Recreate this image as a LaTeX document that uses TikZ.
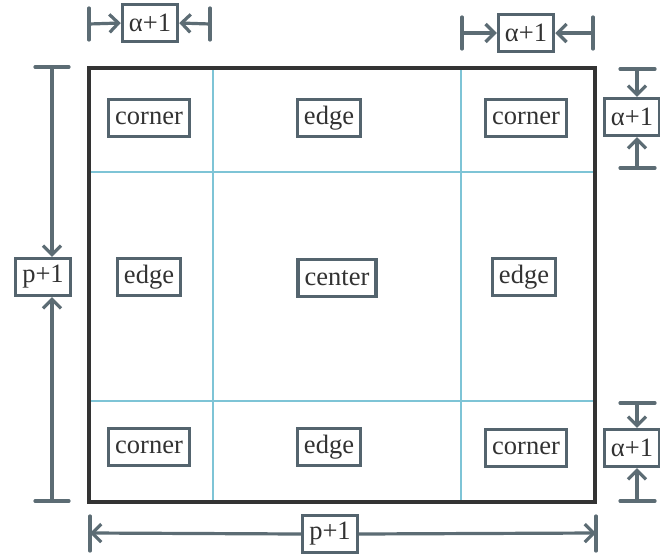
\documentclass[tikz,border=0pt]{standalone}
\usepackage{fontspec}
\setmainfont{Liberation Serif}
\usetikzlibrary{arrows.meta}
\definecolor{boxc}{RGB}{84,100,110}
\definecolor{arrc}{RGB}{92,108,116}
\definecolor{gridc}{RGB}{126,196,214}
\definecolor{framec}{RGB}{51,51,51}
\definecolor{textc}{RGB}{50,50,50}
\tikzset{
  lbl/.style={draw=boxc, line width=3.4pt, fill=white, text=textc,
    font=\fontsize{26.5}{30}\selectfont, inner xsep=6.5pt, inner ysep=3pt,
    minimum height=37pt},
  dimarr/.style={draw=arrc, line width=3.2pt, -{Straight Barb[length=9pt,width=18pt,line width=3.2pt]}},
  dimbar/.style={draw=arrc, line width=3.2pt, line cap=round},
  gridline/.style={draw=gridc, line width=2.8pt},
  frame/.style={draw=framec, line width=3.4pt}
}
\begin{document}
\begin{tikzpicture}[x=1pt,y=-1pt]
\useasboundingbox (0,0) rectangle (660,554);
\fill[white] (0,0) rectangle (660,554);
% grid
\draw[gridline] (213,68) -- (213,502);
\draw[gridline] (461,68) -- (461,502);
\draw[gridline] (89,172) -- (595,172);
\draw[gridline] (89,401) -- (595,401);
% frame
\draw[frame] (89,68) rectangle (595,502);
% region labels
\node[lbl] (c1) at (149,118) {corner};
\node[lbl] (e1) at (329,118) {edge};
\node[lbl] (c2) at (526,118) {corner};
\node[lbl] (e2) at (149,277) {edge};
\node[lbl] (ce) at (337,278) {center};
\node[lbl] (e3) at (524,277) {edge};
\node[lbl] (c3) at (149,447) {corner};
\node[lbl] (e4) at (329,447) {edge};
\node[lbl] (c4) at (526,448) {corner};
% dimension labels
\node[lbl] (a1) at (150,23) {α+1};
\node[lbl] (a2) at (526,33) {α+1};
\node[lbl] (a3) at (632,117) {α+1};
\node[lbl] (a4) at (632,448) {α+1};
\node[lbl] (p1) at (43,277) {p+1};
\node[lbl] (p2) at (330,534) {p+1};
% coordinates for bar ends
\coordinate (t1l) at (89,24);
\coordinate (t1r) at (210,24);
\coordinate (t2l) at (462,33);
\coordinate (t2r) at (593,33);
\coordinate (r1t) at (637,69);
\coordinate (r1b) at (637,168);
\coordinate (r2t) at (637,403);
\coordinate (r2b) at (637,501);
\coordinate (lt) at (52,67);
\coordinate (lb) at (52,501);
\coordinate (bl) at (90,533);
\coordinate (br) at (596,533);
% bars
\draw[dimbar] (89,8) -- (89,40);
\draw[dimbar] (210,8) -- (210,40);
\draw[dimbar] (462,17) -- (462,49);
\draw[dimbar] (593,17) -- (593,49);
\draw[dimbar] (620,69) -- (655,69);
\draw[dimbar] (620,168) -- (655,168);
\draw[dimbar] (620,403) -- (655,403);
\draw[dimbar] (620,501) -- (655,501);
\draw[dimbar] (35,67) -- (69,67);
\draw[dimbar] (35,501) -- (69,501);
\draw[dimbar] (90,516) -- (90,551);
\draw[dimbar] (596,516) -- (596,551);
% arrows
\draw[dimarr] (t1l) -- (a1.west);
\draw[dimarr] (t1r) -- (a1.east);
\draw[dimarr] (t2l) -- (a2.west);
\draw[dimarr] (t2r) -- (a2.east);
\draw[dimarr] (r1t) -- (r1t |- a3.north);
\draw[dimarr] (r1b) -- (r1b |- a3.south);
\draw[dimarr] (r2t) -- (r2t |- a4.north);
\draw[dimarr] (r2b) -- (r2b |- a4.south);
\draw[dimarr] (lt) -- (lt |- p1.north);
\draw[dimarr] (lb) -- (lb |- p1.south);
\draw[dimarr] (p2.west) -- (bl);
\draw[dimarr] (p2.east) -- (br);
\end{tikzpicture}
\end{document}
